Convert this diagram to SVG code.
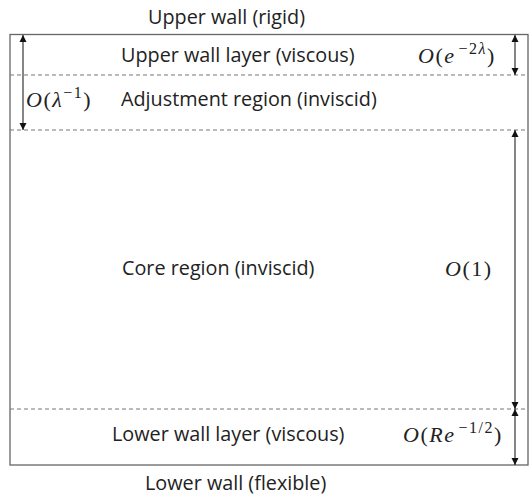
<svg xmlns="http://www.w3.org/2000/svg" width="530" height="496" viewBox="0 0 530 496">
<style>
.t{font-family:"Open Sans","Noto Sans",sans-serif;font-size:19.8px;fill:#222}
.m{font-family:"Liberation Serif","DejaVu Serif",serif;font-size:22px;fill:#222;letter-spacing:1.5px}
.mi{font-style:italic}
.sup{font-size:16px}
.wall{fill:none;stroke:#666;stroke-width:1.3}
.dash{stroke:#777;stroke-width:1;stroke-dasharray:4 3}
.arr{stroke:#222;stroke-width:1.1;marker-start:url(#ah);marker-end:url(#ah)}
</style>
<defs>
<marker id="ah" viewBox="0 0 10 10" refX="10" refY="5" markerWidth="7" markerHeight="8" markerUnits="userSpaceOnUse" orient="auto-start-reverse">
<path d="M0,0 L10,5 L0,10 z" fill="#111"/>
</marker>
</defs>
<g id="domain">
<rect class="wall" x="10" y="34.5" width="518" height="430.5"/>
<line class="dash" x1="10" y1="75" x2="528" y2="75"/>
<line class="dash" x1="10" y1="130" x2="528" y2="130"/>
<line class="dash" x1="10" y1="409" x2="528" y2="409"/>
</g>
<g id="upper-wall"><text class="t" x="148" y="24">Upper wall (rigid)</text></g>
<g id="upper-layer"><text class="t" x="121" y="62">Upper wall layer (viscous)</text></g>
<g id="adjustment"><text class="t" x="121" y="106">Adjustment region (inviscid)</text></g>
<g id="core"><text class="t" x="122" y="275">Core region (inviscid)</text></g>
<g id="lower-layer"><text class="t" x="112" y="441">Lower wall layer (viscous)</text></g>
<g id="lower-wall"><text class="t" x="145" y="490">Lower wall (flexible)</text></g>
<g id="scales">
<text class="m" x="418" y="63"><tspan class="mi">O</tspan>(<tspan class="mi">e</tspan><tspan class="sup" dx="3" dy="-9">−2<tspan class="mi">λ</tspan></tspan><tspan dy="9">)</tspan></text>
<text class="m" x="26" y="107"><tspan class="mi">O</tspan>(<tspan class="mi">λ</tspan><tspan class="sup" dy="-9">−1</tspan><tspan dy="9">)</tspan></text>
<text class="m" x="445" y="276"><tspan class="mi">O</tspan>(1)</text>
<text class="m" x="403" y="442"><tspan class="mi">O</tspan>(<tspan class="mi">Re</tspan><tspan class="sup" dx="3" dy="-9">−1/2</tspan><tspan dy="9">)</tspan></text>
</g>
<g id="connectors">
<line class="arr" x1="23" y1="35" x2="23" y2="130"/>
<line class="arr" x1="515" y1="35" x2="515" y2="75"/>
<line class="arr" x1="515" y1="130" x2="515" y2="409"/>
<line class="arr" x1="515" y1="409" x2="515" y2="465"/>
</g>
</svg>
